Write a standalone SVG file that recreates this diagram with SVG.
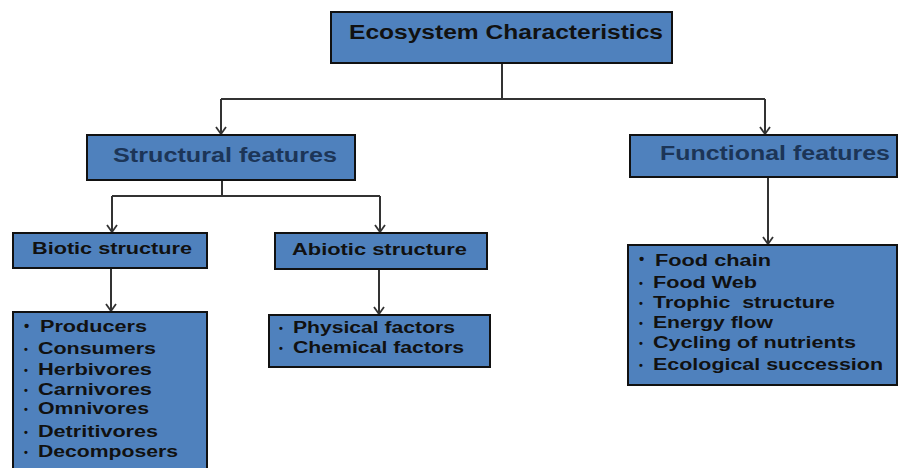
<svg xmlns="http://www.w3.org/2000/svg" width="898" height="468" viewBox="0 0 898 468">
  <style>
    .box { fill: #4f81bd; stroke: #111; stroke-width: 2; }
    .t { font-family: "Liberation Sans", Arial, sans-serif; font-weight: bold; fill: #111; }
    .navy { fill: #1c3557; }
    .h1 { font-size: 19.5px; }
    .h2 { font-size: 19.5px; }
    .h3 { font-size: 16.5px; }
    .li { font-size: 16px; }
    .b1 { font-size: 15px; }
    .b2 { font-size: 11px; }
    .wire { fill: none; stroke: #333; stroke-width: 2; }
  </style>
  <defs>
    <!-- stick arrowhead, drawn along +x so orient="auto" turns it with the line -->
    <marker id="arrow" viewBox="0 0 10 12" refX="9" refY="6" markerWidth="10" markerHeight="12" markerUnits="userSpaceOnUse" orient="auto">
      <path d="M2,1 L9,6 L2,11" fill="none" stroke="#333" stroke-width="1.8"/>
    </marker>
  </defs>
  <rect width="898" height="468" fill="#fff"/>

  <!-- connectors -->
  <g id="connectors">
    <path class="wire" d="M502,63 V99 M221,99 H765"/>
    <path class="wire" d="M221,99 V134" marker-end="url(#arrow)"/>
    <path class="wire" d="M765,99 V134" marker-end="url(#arrow)"/>
    <path class="wire" d="M222,180 V196 M112,196 H380"/>
    <path class="wire" d="M112,196 V232" marker-end="url(#arrow)"/>
    <path class="wire" d="M380,196 V232" marker-end="url(#arrow)"/>
    <path class="wire" d="M111,268 V311" marker-end="url(#arrow)"/>
    <path class="wire" d="M379,269 V314" marker-end="url(#arrow)"/>
    <path class="wire" d="M768,178 V244" marker-end="url(#arrow)"/>
  </g>

  <g id="ecosystem">
    <rect class="box" x="331" y="12" width="341" height="51"/>
    <text class="t h1" x="349" y="39" textLength="314" lengthAdjust="spacingAndGlyphs">Ecosystem Characteristics</text>
  </g>

  <g id="structural">
    <rect class="box" x="87" y="135" width="268" height="45"/>
    <text class="t h2 navy" x="113" y="162" textLength="224" lengthAdjust="spacingAndGlyphs">Structural features</text>
  </g>

  <g id="functional">
    <rect class="box" x="630" y="135" width="267" height="42"/>
    <text class="t h2 navy" x="660" y="160" textLength="230" lengthAdjust="spacingAndGlyphs">Functional features</text>
  </g>

  <g id="biotic">
    <rect class="box" x="13" y="233" width="194" height="35"/>
    <text class="t h3" x="32" y="254" textLength="160" lengthAdjust="spacingAndGlyphs">Biotic structure</text>
  </g>

  <g id="abiotic">
    <rect class="box" x="275" y="233" width="212" height="36"/>
    <text class="t h3" x="292" y="254.5" textLength="175" lengthAdjust="spacingAndGlyphs">Abiotic structure</text>
  </g>

  <g id="biotic-list">
    <rect class="box" x="13" y="312" width="194" height="170"/>
    <text class="t b1" x="24" y="331">•</text>
    <text class="t li" x="40" y="332" textLength="107" lengthAdjust="spacingAndGlyphs">Producers</text>
    <text class="t b2" x="24" y="353">•</text>
    <text class="t li" x="38" y="354" textLength="118" lengthAdjust="spacingAndGlyphs">Consumers</text>
    <text class="t b2" x="24" y="374">•</text>
    <text class="t li" x="38" y="375" textLength="114" lengthAdjust="spacingAndGlyphs">Herbivores</text>
    <text class="t b2" x="24" y="394">•</text>
    <text class="t li" x="38" y="395" textLength="114" lengthAdjust="spacingAndGlyphs">Carnivores</text>
    <text class="t b2" x="24" y="413">•</text>
    <text class="t li" x="38" y="414" textLength="111" lengthAdjust="spacingAndGlyphs">Omnivores</text>
    <text class="t b2" x="24" y="436">•</text>
    <text class="t li" x="38" y="437" textLength="120" lengthAdjust="spacingAndGlyphs">Detritivores</text>
    <text class="t b2" x="24" y="456">•</text>
    <text class="t li" x="38" y="457" textLength="140" lengthAdjust="spacingAndGlyphs">Decomposers</text>
  </g>

  <g id="abiotic-list">
    <rect class="box" x="269" y="315" width="221" height="52"/>
    <text class="t b2" x="279" y="332">•</text>
    <text class="t li" x="293" y="333" textLength="162" lengthAdjust="spacingAndGlyphs">Physical factors</text>
    <text class="t b2" x="279" y="352">•</text>
    <text class="t li" x="293" y="353" textLength="171" lengthAdjust="spacingAndGlyphs">Chemical factors</text>
  </g>

  <g id="functional-list">
    <rect class="box" x="628" y="245" width="269" height="140"/>
    <text class="t b1" x="639" y="264">•</text>
    <text class="t li" x="655" y="266" textLength="116" lengthAdjust="spacingAndGlyphs">Food chain</text>
    <text class="t b2" x="639" y="287">•</text>
    <text class="t li" x="653" y="288" textLength="104" lengthAdjust="spacingAndGlyphs">Food Web</text>
    <text class="t b2" x="639" y="307">•</text>
    <text class="t li" x="653" y="308" textLength="182" lengthAdjust="spacingAndGlyphs" xml:space="preserve">Trophic  structure</text>
    <text class="t b2" x="639" y="327">•</text>
    <text class="t li" x="653" y="328" textLength="120" lengthAdjust="spacingAndGlyphs">Energy flow</text>
    <text class="t b2" x="639" y="347">•</text>
    <text class="t li" x="653" y="348" textLength="203" lengthAdjust="spacingAndGlyphs">Cycling of nutrients</text>
    <text class="t b2" x="639" y="369">•</text>
    <text class="t li" x="653" y="370" textLength="230" lengthAdjust="spacingAndGlyphs">Ecological succession</text>
  </g>
</svg>
